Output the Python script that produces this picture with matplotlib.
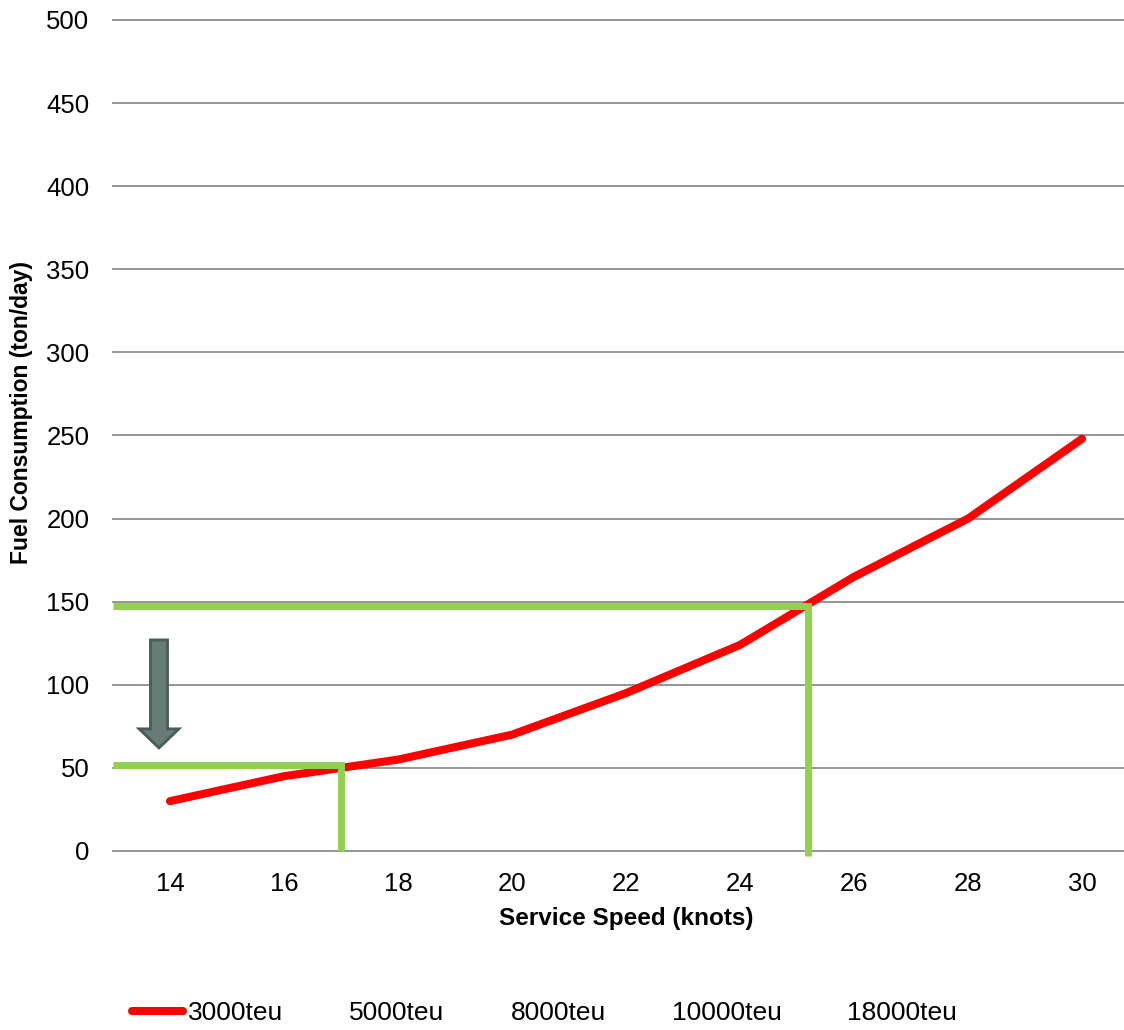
import matplotlib
matplotlib.use("Agg")
import matplotlib.pyplot as plt
from matplotlib.lines import Line2D
from matplotlib.patches import FancyArrow

# Fuel consumption of a 3000 TEU container ship versus service speed
speeds = [14, 16, 18, 20, 22, 24, 26, 28, 30]
fuel_3000teu = [30, 45, 55, 70, 95, 124, 165, 200, 248]
series_names = ["3000teu", "5000teu", "8000teu", "10000teu", "18000teu"]
y_ticks = [0, 50, 100, 150, 200, 250, 300, 350, 400, 450, 500]

# Reading guides: original operating point and slow-steaming point
fast_speed, fast_fuel = 25.2, 147.5
slow_speed, slow_fuel = 17.0, 51.5

plt.rcParams["font.family"] = ["Liberation Sans", "DejaVu Sans"]

W, H = 1124, 1030
fig = plt.figure(figsize=(W / 100, H / 100), dpi=100)
ax = fig.add_axes([113 / W, (H - 851) / H, (1139 - 113) / W, (851 - 20) / H])

ax.set_xlim(13, 31)
ax.set_ylim(0, 500)
ax.set_xticks(speeds)
ax.set_yticks(y_ticks)
ax.tick_params(axis="both", length=0, labelsize=18.5, colors="black")
ax.tick_params(axis="y", pad=17)
ax.tick_params(axis="x", pad=15)
for s in ax.spines.values():
    s.set_visible(False)

ax.set_axisbelow(True)
ax.yaxis.grid(True, color="#8c8c8c", linewidth=1.3)
ax.xaxis.grid(False)
for gl in ax.get_ygridlines():
    gl.set_clip_on(False)

# Main series
ax.plot(speeds, fuel_3000teu, color="#ff0000", linewidth=5.8,
        solid_capstyle="round", solid_joinstyle="round", zorder=3,
        label=series_names[0])
# Remaining fleet sizes have no data on this chart
for name in series_names[1:]:
    ax.plot([], [], linestyle="none", label=name)

guide_kw = dict(color="#92d050", linewidth=5.0, solid_capstyle="butt",
                solid_joinstyle="miter", clip_on=False, zorder=4)
ax.plot([13, fast_speed, fast_speed], [fast_fuel, fast_fuel, -3], **guide_kw)
ax.plot([13, slow_speed, slow_speed], [slow_fuel, slow_fuel, 0], **guide_kw)

# Downward arrow from the high-speed level to the slow-steaming level
arrow = FancyArrow(13.807, 127.0, 0, -65.0, width=0.30, head_width=0.70,
                   head_length=11.5, length_includes_head=True,
                   facecolor="#657c77", edgecolor="#4a5c57", linewidth=2.0,
                   zorder=5)
ax.add_patch(arrow)

ax.set_xlabel("Service Speed (knots)", fontsize=17.5, fontweight="bold")
ax.xaxis.set_label_coords(0.5, -(918 - 851) / 831)
ax.xaxis.label.set_va("center")

ax.set_ylabel("Fuel Consumption (ton/day)", fontsize=16.5, fontweight="bold",
              rotation_mode="default", va="center", ha="center")
ax.yaxis.set_label_coords(-(113 - 22) / 1026, (851 - 413) / 831)

handles, labels = ax.get_legend_handles_labels()
handles[0] = Line2D([], [], color="#ff0000", linewidth=5.8, solid_capstyle="round")
fig.legend(handles, labels, loc="center left",
           bbox_to_anchor=(132 / W, 1 - 1013 / H), ncol=5, frameon=False,
           fontsize=19, handlelength=1.93, handletextpad=0.19,
           columnspacing=0.38, borderpad=0, borderaxespad=0)

fig.savefig("out.png", dpi=100)
